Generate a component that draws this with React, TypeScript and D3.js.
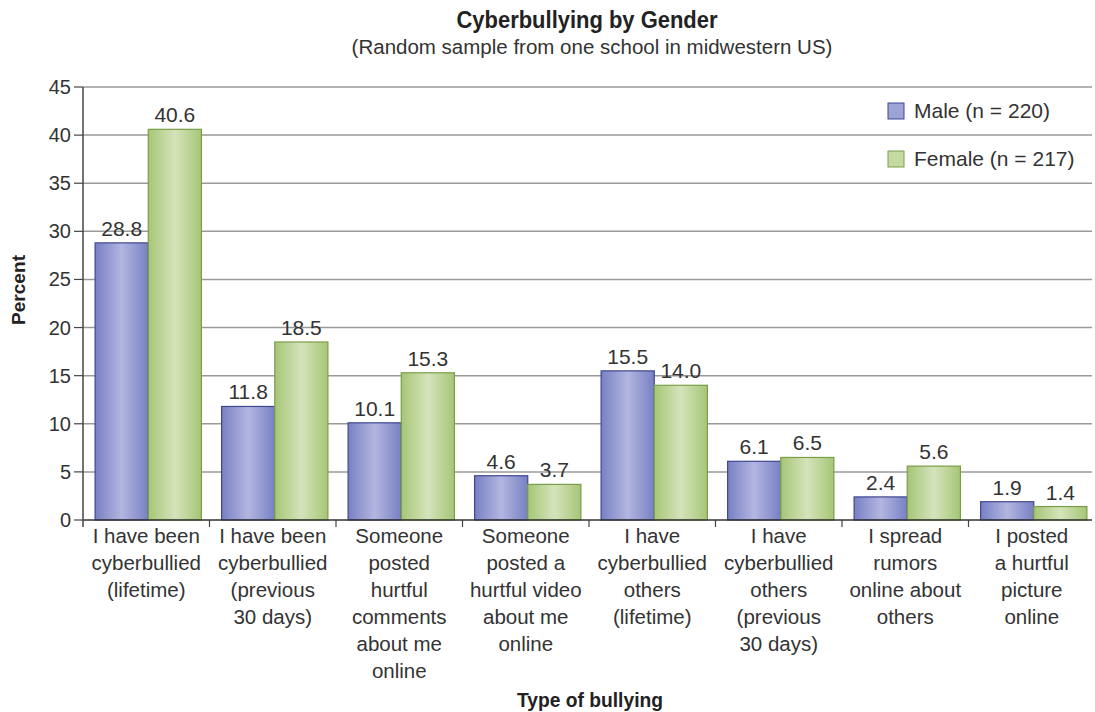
import React from "react";
import * as d3 from "d3";

const categories: string[][] = [
  ["I have been", "cyberbullied", "(lifetime)"],
  ["I have been", "cyberbullied", "(previous", "30 days)"],
  ["Someone", "posted", "hurtful", "comments", "about me", "online"],
  ["Someone", "posted a", "hurtful video", "about me", "online"],
  ["I have", "cyberbullied", "others", "(lifetime)"],
  ["I have", "cyberbullied", "others", "(previous", "30 days)"],
  ["I spread", "rumors", "online about", "others"],
  ["I posted", "a hurtful", "picture", "online"],
];
const maleValues = [28.8, 11.8, 10.1, 4.6, 15.5, 6.1, 2.4, 1.9];
const femaleValues = [40.6, 18.5, 15.3, 3.7, 14.0, 6.5, 5.6, 1.4];
const yTicks = [0, 5, 10, 15, 20, 25, 30, 35, 40, 45];
const seriesNames = ["Male (n = 220)", "Female (n = 217)"];

const W = 1095;
const H = 712;
const left = 83;
const right = 1095;
const top = 87;
const bottom = 520;
const FONT = "'Liberation Sans', Arial, sans-serif";

export default function App() {
  const idx = categories.map((_, i) => String(i));
  const x = d3.scaleBand<string>().domain(idx).range([left, right]).paddingInner(0).paddingOuter(0);
  const inner = d3.scaleBand<string>().domain(["m", "f"]).range([2, x.bandwidth() + 2]).paddingOuter(0.19).paddingInner(0);
  const y = d3.scaleLinear().domain([0, 45]).range([bottom, top]);
  const series = [
    { key: "m", values: maleValues, fill: "url(#gMale)", stroke: "#3f4791" },
    { key: "f", values: femaleValues, fill: "url(#gFemale)", stroke: "#7a9e48" },
  ];
  return (
    <svg width={W} height={H} style={{ position: "absolute", left: 0, top: 0, background: "#fff" }}>
      <defs>
        <linearGradient id="gMale" x1="0" x2="1" y1="0" y2="0">
          <stop offset="0" stopColor="#7880c4" />
          <stop offset="0.5" stopColor="#b3b6e0" />
          <stop offset="1" stopColor="#7880c4" />
        </linearGradient>
        <linearGradient id="gFemale" x1="0" x2="1" y1="0" y2="0">
          <stop offset="0" stopColor="#a6c676" />
          <stop offset="0.5" stopColor="#d5e3bb" />
          <stop offset="1" stopColor="#a6c676" />
        </linearGradient>
      </defs>
      <text x={587} y={28} textAnchor="middle" fontFamily={FONT} fontWeight="bold" fontSize={23} fill="#222" textLength={261} lengthAdjust="spacingAndGlyphs">
        Cyberbullying by Gender
      </text>
      <text x={592} y={54} textAnchor="middle" fontFamily={FONT} fontSize={20.5} fill="#333">
        (Random sample from one school in midwestern US)
      </text>
      {yTicks.map((t) => (
        <g key={t}>
          {t > 0 && <line x1={left} x2={right - 3} y1={y(t)} y2={y(t)} stroke="#9a9a9a" strokeWidth={1.5} />}
          <line x1={left - 9} x2={left} y1={y(t)} y2={y(t)} stroke="#444" strokeWidth={1.2} />
          <text x={left - 12} y={y(t)} dy="0.35em" textAnchor="end" fontFamily={FONT} fontSize={20} fill="#333">
            {t}
          </text>
        </g>
      ))}
      {idx.map((c, i) => (
        <g key={c} transform={`translate(${x(c)},0)`}>
          {series.map((s) => (
            <g key={s.key}>
              <rect
                x={inner(s.key)!}
                y={y(s.values[i])}
                width={inner.bandwidth()}
                height={bottom - y(s.values[i])}
                fill={s.fill}
                stroke={s.stroke}
                strokeWidth={1.2}
              />
              <text
                x={inner(s.key)! + inner.bandwidth() / 2}
                y={y(s.values[i]) - 7}
                textAnchor="middle"
                fontFamily={FONT}
                fontSize={21}
                fill="#333"
              >
                {s.values[i].toFixed(1)}
              </text>
            </g>
          ))}
          {categories[i].map((line, j) => (
            <text
              key={j}
              x={x.bandwidth() / 2}
              y={543 + j * 27}
              textAnchor="middle"
              fontFamily={FONT}
              fontSize={20.5}
              fill="#333"
            >
              {line}
            </text>
          ))}
          {i > 0 && <line x1={0} x2={0} y1={bottom} y2={bottom + 7} stroke="#444" strokeWidth={1.2} />}
        </g>
      ))}
      <line x1={left} x2={right - 3} y1={bottom} y2={bottom} stroke="#333" strokeWidth={1.5} />
      <line x1={left} x2={left} y1={top} y2={bottom + 7} stroke="#444" strokeWidth={1.5} />
      {seriesNames.map((name, i) => (
        <g key={name} transform={`translate(888,${103 + i * 48})`}>
          <rect x={0} y={0} width={16} height={16} fill={i === 0 ? "#9ea3d6" : "#c5d9a2"} stroke={i === 0 ? "#3f4791" : "#7a9e48"} strokeWidth={1} />
          <text x={26} y={8} dy="0.35em" fontFamily={FONT} fontSize={21} fill="#333">
            {name}
          </text>
        </g>
      ))}
      <text transform="translate(25,290) rotate(-90)" textAnchor="middle" fontFamily={FONT} fontWeight="bold" fontSize={18} fill="#222" textLength={70} lengthAdjust="spacingAndGlyphs">
        Percent
      </text>
      <text x={590} y={707} textAnchor="middle" fontFamily={FONT} fontWeight="bold" fontSize={20} fill="#222" textLength={146} lengthAdjust="spacingAndGlyphs">
        Type of bullying
      </text>
    </svg>
  );
}
